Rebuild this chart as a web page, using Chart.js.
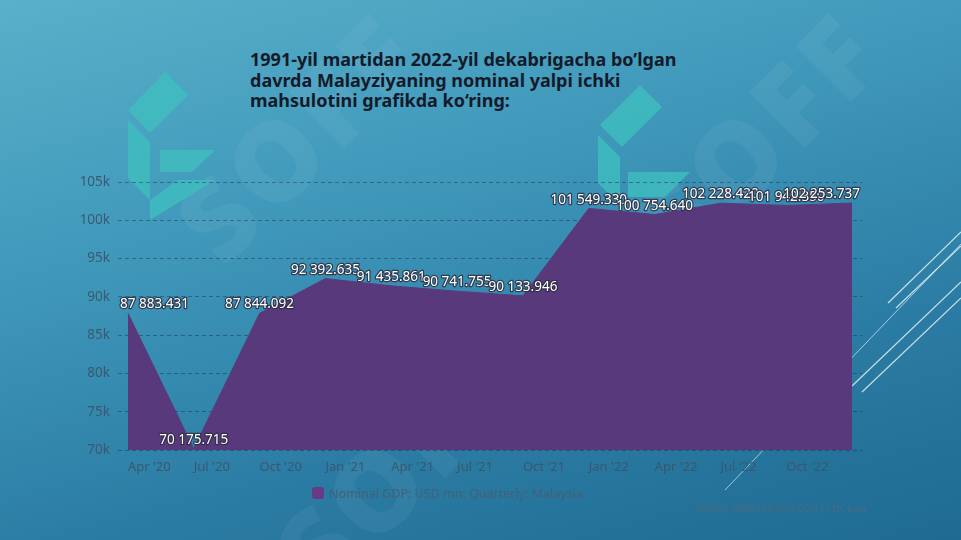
<!DOCTYPE html>
<html>
<head>
<meta charset="utf-8">
<script src="https://cdn.jsdelivr.net/npm/chart.js@4.4.0/dist/chart.umd.min.js"></script>
<style>
  html, body { margin: 0; padding: 0; }
  body {
    width: 961px; height: 540px; overflow: hidden; position: relative;
    background: linear-gradient(165deg, #58b0c9 0%, #4099bb 35%, #2b7ca4 70%, #1e6a92 100%);
    font-family: "Noto Sans", "Open Sans", sans-serif;
  }
  .wm { position: absolute; font-weight: 900; font-size: 110px; color: rgba(255,255,255,0.05);
        transform: rotate(-45deg); letter-spacing: 6px; white-space: nowrap; }
  #title { position: absolute; left: 250px; top: 49px; width: 445px; font-weight: bold;
           font-size: 18px; line-height: 20.5px; color: #141a2a; }
  #chart { position: absolute; left: 0; top: 0; }
  #legend { position: absolute; left: 312px; top: 485px; font-size: 12.5px; color: rgba(70,95,115,0.95); }
  #legend span.box { display: inline-block; width: 12px; height: 12px; background: #6a3a86;
                     border-radius: 3px; vertical-align: -1px; margin-right: 5px; }
  #source { position: absolute; left: 695px; top: 503px; font-size: 8.5px; color: rgba(80,105,125,0.95); }
  svg { position: absolute; left: 0; top: 0; }
</style>
</head>
<body>
<div class="wm" style="left:150px; top:60px;">SOFF</div>
<div class="wm" style="left:610px; top:60px;">SOFF</div>
<div class="wm" style="left:250px; top:390px;">SOFF</div>
<svg width="961" height="540">
  <g fill="rgba(62,190,190,0.8)">
    <polygon points="165,72 188,95 150,133 128,110"/>
    <polygon points="128,120 150,142 150,200 128,178"/>
    <polygon points="160,150 215,150 192,172 160,172"/>
    <polygon points="178,180 215,180 150,220 150,200"/>
    <polygon points="640,85 662,107 622,147 600,125"/>
    <polygon points="598,135 620,157 620,205 598,183"/>
    <polygon points="628,172 690,172 665,197 628,197"/>
  </g>
  <g stroke="rgba(255,255,255,0.75)" stroke-width="1.2">
    <line x1="888" y1="303" x2="961" y2="232"/>
    <line x1="896" y1="308" x2="961" y2="246"/>
    <line x1="852" y1="386" x2="961" y2="282"/>
    <line x1="862" y1="392" x2="961" y2="298"/>
    <line x1="725" y1="490" x2="961" y2="244" stroke-width="0.8"/>
  </g>
</svg>
<div id="title">1991-yil martidan 2022-yil dekabrigacha bo’lgan davrda Malayziyaning nominal yalpi ichki mahsulotini grafikda ko‘ring:</div>
<canvas id="chart" width="961" height="540"></canvas>
<div id="legend"><span class="box"></span>Nominal GDP: USD mn: Quarterly: Malaysia</div>
<div id="source">SOURCE: WWW.CEICDATA.COM | CEIC Data</div>
<script>
// Chorak nomlari va qiymatlar (USD mln)
const quarters = ['Mar 2020', 'Jun 2020', 'Sep 2020', 'Dec 2020', 'Mar 2021', 'Jun 2021',
                  'Sep 2021', 'Dec 2021', 'Mar 2022', 'Jun 2022', 'Sep 2022', 'Dec 2022'];
const gdpValues = [87883.431, 70175.715, 87844.092, 92392.635, 91435.861, 90741.755,
                   90133.946, 101549.330, 100754.640, 102228.420, 101942.350, 102253.737];
const tickLabels = ["Apr '20", "Jul '20", "Oct '20", "Jan '21", "Apr '21", "Jul '21",
                    "Oct '21", "Jan '22", "Apr '22", "Jul '22", "Oct '22", ""];
const yTicks = [70000, 75000, 80000, 85000, 90000, 95000, 100000, 105000];

function formatNum(v) {
  const parts = v.toFixed(3).split('.');
  return parts[0].replace(/\B(?=(\d{3})+(?!\d))/g, ' ') + '.' + parts[1];
}

// Qiymat yorliqlari
const valueLabels = {
  id: 'valueLabels',
  afterDatasetsDraw(chart) {
    const ctx = chart.ctx;
    const area = chart.chartArea;
    const meta = chart.getDatasetMeta(0);
    ctx.save();
    ctx.font = '13.5px "Noto Sans", "Open Sans", sans-serif';
    ctx.textBaseline = 'bottom';
    ctx.textAlign = 'left';
    ctx.lineJoin = 'round';
    meta.data.forEach((pt, i) => {
      const txt = formatNum(gdpValues[i]);
      const w = ctx.measureText(txt).width;
      let x = pt.x - w / 2;
      if (x < area.left + 2) x = area.left + 2;
      if (x + w > area.right - 2) x = area.right - 2 - w;
      const y = pt.y - 2;
      ctx.lineWidth = 2.5;
      ctx.strokeStyle = 'rgba(45,45,65,0.85)';
      ctx.strokeText(txt, x, y);
      ctx.fillStyle = '#ffffff';
      ctx.fillText(txt, x, y);
    });
    ctx.restore();
  }
};

const ctx = document.getElementById('chart').getContext('2d');
new Chart(ctx, {
  type: 'line',
  data: {
    labels: quarters,
    datasets: [{
      label: 'Nominal GDP: USD mn: Quarterly: Malaysia',
      data: gdpValues.map((v, i) => ({ x: i, y: v })),
      borderColor: '#5b3a7c',
      backgroundColor: '#583a7c',
      borderWidth: 1,
      fill: 'start',
      tension: 0,
      pointRadius: 0
    }]
  },
  options: {
    responsive: false,
    animation: false,
    layout: { padding: { left: 60, right: 99, top: 182, bottom: 60 } },
    plugins: { legend: { display: false }, tooltip: { enabled: false } },
    scales: {
      x: {
        type: 'linear',
        min: -0.15,
        max: 11.15,
        afterBuildTicks: s => { s.ticks = quarters.map((q, i) => ({ value: i })); },
        afterFit: s => { s.height = 30; },
        grid: { display: false },
        border: { display: false },
        ticks: {
          align: 'start',
          maxRotation: 0,
          autoSkip: false,
          padding: 1,
          color: 'rgba(60,85,110,0.95)',
          font: { size: 13, family: '"Noto Sans", "Open Sans", sans-serif' },
          callback: v => tickLabels[v] || ''
        }
      },
      y: {
        min: 70000,
        max: 105000,
        afterFit: s => { s.width = 58; },
        afterBuildTicks: s => { s.ticks = yTicks.map(v => ({ value: v })); },
        border: { display: false, dash: [4, 3] },
        grid: { color: 'rgba(25,45,70,0.45)', drawTicks: false },
        ticks: {
          padding: 8,
          color: 'rgba(60,85,110,0.95)',
          font: { size: 13.5, family: '"Noto Sans", "Open Sans", sans-serif' },
          callback: v => (v / 1000) + 'k'
        }
      }
    }
  },
  plugins: [valueLabels]
});
</script>
</body>
</html>
